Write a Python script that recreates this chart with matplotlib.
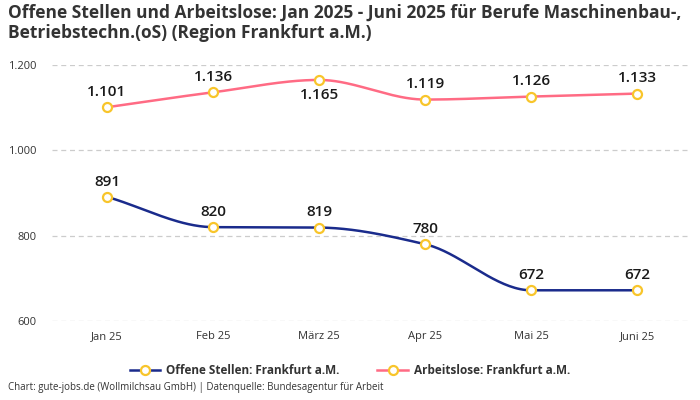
import numpy as np
import matplotlib.pyplot as plt
from matplotlib.lines import Line2D

plt.rcParams['font.family'] = ['Open Sans', 'DejaVu Sans']

#DATA
months = ['Jan 25', 'Feb 25', 'März 25', 'Apr 25', 'Mai 25', 'Juni 25']
offene = [891, 820, 819, 780, 672, 672]
arbeitslose = [1101, 1136, 1165, 1119, 1126, 1133]
offene_lbl = ['891', '820', '819', '780', '672', '672']
arbeitslose_lbl = ['1.101', '1.136', '1.165', '1.119', '1.126', '1.133']
arbeitslose_pos = ['above', 'above', 'below', 'above', 'above', 'above']
yticks = [600, 800, 1000, 1200]
ytick_lbl = ['600', '800', '1.000', '1.200']

blue = '#1a2b8c'
pink = '#ff6b84'
gold = '#f8c52b'


"""Monotone kubische Interpolation fuer glatte Kurven"""
def smooth(x, y, n=40):
    x = np.asarray(x, float)
    y = np.asarray(y, float)
    h = np.diff(x)
    d = np.diff(y) / h
    m = np.zeros_like(y)
    m[0] = d[0]
    m[-1] = d[-1]
    for i in range(1, len(y) - 1):
        if d[i-1] * d[i] <= 0:
            m[i] = 0
        else:
            m[i] = 2 / (1 / d[i-1] + 1 / d[i])
    xs, ys = [], []
    for i in range(len(x) - 1):
        t = np.linspace(0, 1, n)
        h00 = 2*t**3 - 3*t**2 + 1
        h10 = t**3 - 2*t**2 + t
        h01 = -2*t**3 + 3*t**2
        h11 = t**3 - t**2
        xs.append(x[i] + t*h[i])
        ys.append(h00*y[i] + h10*h[i]*m[i] + h01*y[i+1] + h11*h[i]*m[i+1])
    return np.concatenate(xs), np.concatenate(ys)


fig = plt.figure(figsize=(7, 4), dpi=100)
ax = fig.add_axes([0.074, 0.1975, 0.912, 0.64])

xpos = np.arange(len(months))
for vals, col in [(offene, blue), (arbeitslose, pink)]:
    sx, sy = smooth(xpos, vals)
    ax.plot(sx, sy, color=col, lw=1.8, zorder=3, clip_on=False)
    ax.plot(xpos, vals, 'o', ms=6.5, mfc='white', mec=gold, mew=1.6, zorder=4, clip_on=False)

for i in range(len(months)):
    ax.annotate(offene_lbl[i], (xpos[i], offene[i]), xytext=(0, 6), textcoords='offset points',
                ha='center', va='bottom', fontsize=11, fontweight='semibold', color='#1a1a1a')
    if arbeitslose_pos[i] == 'above':
        ax.annotate(arbeitslose_lbl[i], (xpos[i], arbeitslose[i]), xytext=(0, 6), textcoords='offset points',
                    ha='center', va='bottom', fontsize=11, fontweight='semibold', color='#1a1a1a')
    else:
        ax.annotate(arbeitslose_lbl[i], (xpos[i], arbeitslose[i]), xytext=(0, -6), textcoords='offset points',
                    ha='center', va='top', fontsize=11, fontweight='semibold', color='#1a1a1a')

ax.set_xlim(-0.52, 5.5)
ax.set_ylim(600, 1200)
ax.set_xticks(xpos)
ax.set_xticklabels(months, fontsize=8, color='#333333')
ax.set_yticks(yticks)
ax.set_yticklabels(ytick_lbl, fontsize=8, color='#333333')
ax.tick_params(length=0, pad=7)
ax.tick_params(axis='y', pad=11)
ax.grid(axis='y', color='#cccccc', ls=(0, (4, 3)), lw=0.9)
ax.set_axisbelow(True)
for s in ax.spines.values():
    s.set_visible(False)

fig.text(0.012, 0.99, 'Offene Stellen und Arbeitslose: Jan 2025 - Juni 2025 für Berufe Maschinenbau-,\nBetriebstechn.(oS) (Region Frankfurt a.M.)',
         ha='left', va='top', fontsize=12.5, fontweight='bold', color='#333333', linespacing=1.15)

handles = [Line2D([0], [0], color=blue, lw=1.8, marker='o', ms=6.5, mfc='white', mec=gold, mew=1.6),
           Line2D([0], [0], color=pink, lw=1.8, marker='o', ms=6.5, mfc='white', mec=gold, mew=1.6)]
fig.legend(handles, ['Offene Stellen: Frankfurt a.M.', 'Arbeitslose: Frankfurt a.M.'],
           loc='center', bbox_to_anchor=(0.5, 0.0725), ncol=2, frameon=False,
           prop={'size': 8.5, 'weight': 'bold'}, labelcolor='#333333',
           handlelength=2.6, columnspacing=3.2, handletextpad=0.5)

fig.text(0.012, 0.018, 'Chart: gute-jobs.de (Wollmilchsau GmbH) | Datenquelle: Bundesagentur für Arbeit',
         ha='left', va='bottom', fontsize=7, color='#333333')

fig.savefig('out.png', dpi=100, facecolor='white')
